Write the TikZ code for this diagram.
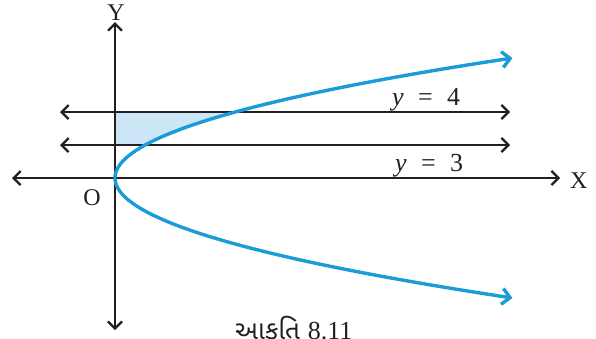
\documentclass[tikz,border=0pt]{standalone}
\usepackage{fontspec}
\setmainfont{Liberation Serif}
\newfontfamily\gujfont[Script=Gujarati]{Noto Sans Gujarati UI}
\usetikzlibrary{arrows.meta}
\definecolor{axisc}{HTML}{231F20}
\definecolor{curvec}{HTML}{1B9BD7}
\definecolor{shadec}{HTML}{CDE6F7}
\tikzset{
  axisline/.style={draw=axisc, line width=2.3pt, arrows={Straight Barb[length=7pt,width=14pt,line width=2.3pt]-Straight Barb[length=7pt,width=14pt,line width=2.3pt]}},
  curveline/.style={draw=curvec, line width=3.4pt, arrows={Straight Barb[length=8pt,width=16pt,line width=3.4pt]-Straight Barb[length=8pt,width=16pt,line width=3.4pt]}},
  lbl/.style={font=\fontsize{24}{26}\selectfont, inner sep=0pt, text=axisc},
}
\begin{document}
\begin{tikzpicture}[x=1pt,y=-1pt]
\useasboundingbox (0,0) rectangle (596,338);
% shaded region
\fill[shadec] (115,145) -- plot[domain=33:66, samples=40] ({115+0.0276*\x*\x},{178-\x}) -- (115,112) -- cycle;
% coordinates
\coordinate (xl) at (12,178);
\coordinate (xr) at (560,178);
\coordinate (yt) at (115,22);
\coordinate (yb) at (115,330);
\coordinate (fl) at (60,112);
\coordinate (fr) at (510,112);
\coordinate (tl) at (60,145);
\coordinate (tr) at (510,145);
% axes and lines
\draw[axisline] (xl) -- (xr);
\draw[axisline] (yb) -- (yt);
\draw[axisline] (fl) -- (fr);
\draw[axisline] (tl) -- (tr);
% parabola
\draw[curveline] plot[domain=-120:120, samples=120, smooth] ({115+0.0276*\x*\x},{178+\x});
% labels
\node[lbl, anchor=base west] (lx) at (570,188) {X};
\node[lbl, anchor=base] (ly) at (116,20) {Y};
\node[lbl, anchor=base] (lo) at (92,205) {O};
\node[lbl, anchor=base west, font=\fontsize{26}{28}\selectfont] (l4) at (392,105) {\textit{y}\hspace{0.55em}=\hspace{0.55em}4};
\node[lbl, anchor=base west, font=\fontsize{26}{28}\selectfont] (l3) at (395,171) {\textit{y}\hspace{0.55em}=\hspace{0.55em}3};
\node[lbl, anchor=base west, font=\fontsize{26}{28}\selectfont] (cap) at (235,339) {{\gujfont આકૃતિ}\hspace{0.3em}8.11};
\end{tikzpicture}
\end{document}
